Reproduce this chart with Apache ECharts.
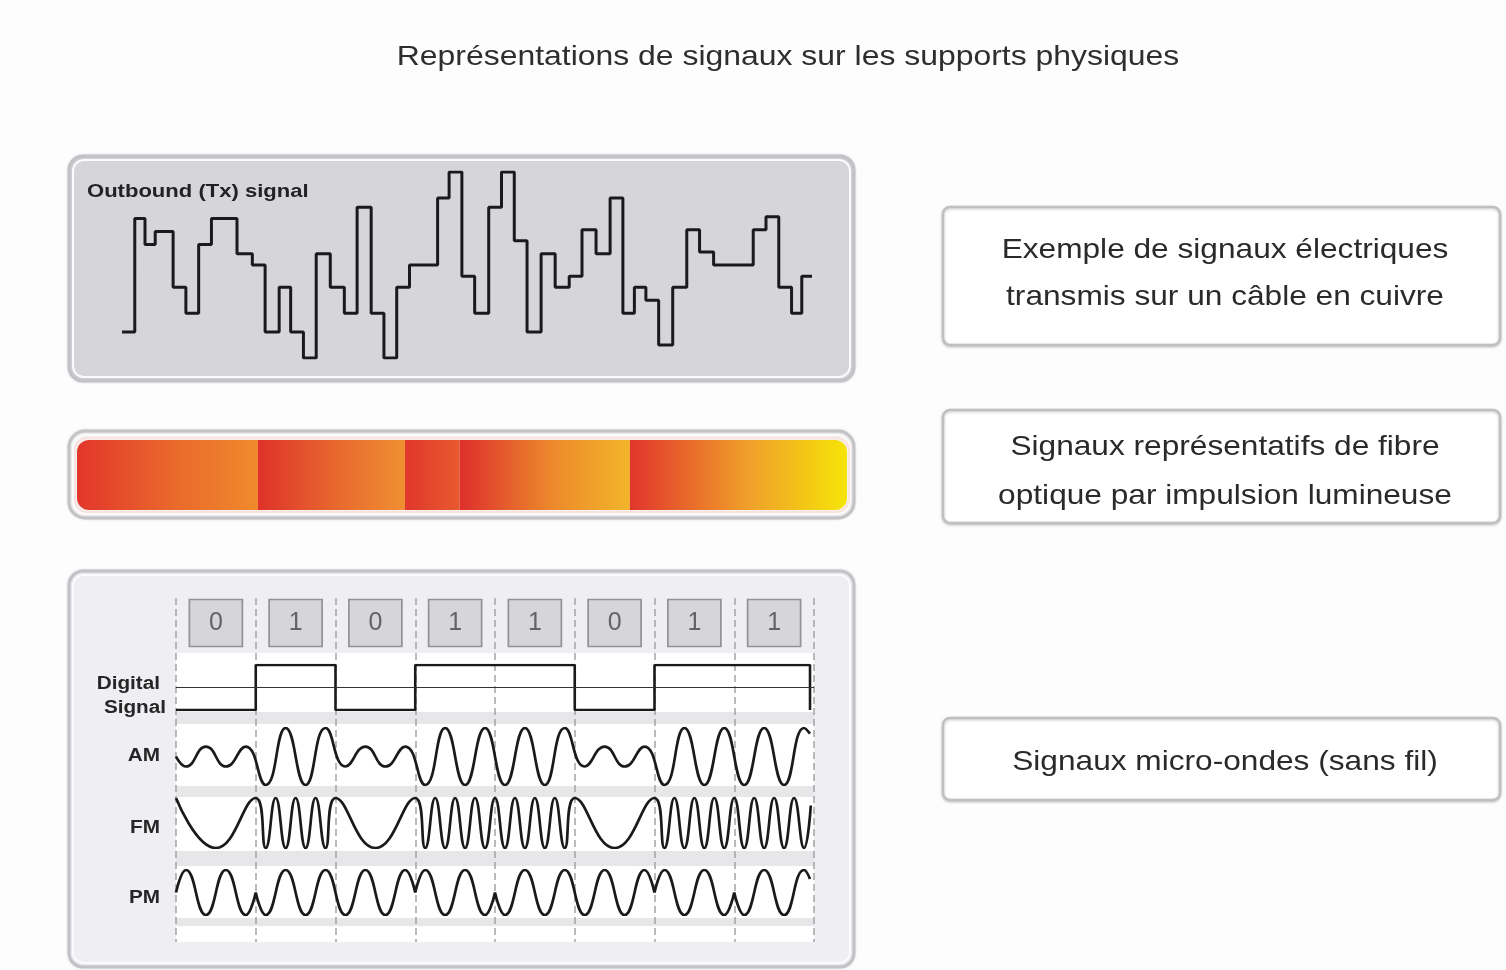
<!DOCTYPE html>
<html><head><meta charset="utf-8">
<script src="https://cdn.jsdelivr.net/npm/echarts@6/dist/echarts.min.js"></script>
<style>html,body{margin:0;padding:0;background:#fdfdfd}#c{width:1506px;height:970px}</style>
</head><body><div id="c"></div>
<script>
// ---------- data ----------
const titleText = 'Représentations de signaux sur les supports physiques';
const copperLabel = 'Outbound (Tx) signal';
// copper (electrical) signal: segment start times and levels
const copperT = [0,1,1.8,2.6,4,5,6,7,9,10.2,11.2,12.3,13.2,14.2,15.2,16.3,17.4,18.4,19.5,20.5,21.5,22.5,24.7,25.6,26.6,27.6,28.7,29.7,30.7,31.7,32.8,33.9,35,36,37.1,38.2,39.2,40.1,41,42,43.1,44.2,45.2,46.3,49.4,50.4,51.4,52.4,53.2,54];
const copperLevel = [1.4,7.5,6.1,6.8,3.8,2.4,6.1,7.5,5.6,5.0,1.4,3.8,1.4,0,5.6,3.8,2.4,8.1,2.4,0,3.8,5.0,8.6,10,4.4,2.4,8.1,10,6.3,1.4,5.6,3.8,4.4,6.9,5.6,8.6,2.4,3.8,3.1,0.7,3.8,6.9,5.7,5.0,6.9,7.6,3.8,2.4,4.4,4.4];
// fibre light pulses: durations and gradient colours
const fiberPulseWidths = [23.5, 19.1, 7.1, 22.1, 28.2];
const fiberStartColors = ['#e2362b', '#de3229', '#e0372c', '#de2f2c', '#e1352c'];
const fiberMidColors   = ['#ea6a2c', '#e86a2e', '#e44a2d', '#ec8a2c', '#f0a02a'];
const fiberEndColors   = ['#f08a2c', '#ef8f32', '#e85a2f', '#f2b52a', '#f6e408'];
// modulation
const bits = [0, 1, 0, 1, 1, 0, 1, 1];
const rowLabels = ['AM', 'FM', 'PM'];
const amPoints = [[0,0],[0.125,-0.35],[0.375,0.35],[0.625,-0.35],[0.875,0.35],
  [1.125,-1],[1.375,1],[1.625,-1],[1.875,1],
  [2.125,-0.35],[2.375,0.35],[2.625,-0.35],[2.875,0.35],
  [3.125,-1],[3.375,1],[3.625,-1],[3.875,1],
  [4.125,-1],[4.375,1],[4.625,-1],[4.875,1],
  [5.125,-0.35],[5.375,0.35],[5.625,-0.35],[5.875,0.35],
  [6.125,-1],[6.375,1],[6.625,-1],[6.875,1],
  [7.125,-1],[7.375,1],[7.625,-1],[7.875,1],[7.95,0.8]];
const fmPoints = [[0,1],[0.5,-1],
  [1,1],[1.125,-1],[1.25,1],[1.375,-1],[1.5,1],[1.625,-1],[1.75,1],[1.875,-1],
  [2,1],[2.5,-1],
  [3,1],[3.125,-1],[3.25,1],[3.375,-1],[3.5,1],[3.625,-1],[3.75,1],[3.875,-1],
  [4,1],[4.125,-1],[4.25,1],[4.375,-1],[4.5,1],[4.625,-1],[4.75,1],[4.875,-1],
  [5,1],[5.5,-1],
  [6,1],[6.125,-1],[6.25,1],[6.375,-1],[6.5,1],[6.625,-1],[6.75,1],[6.875,-1],
  [7,1],[7.125,-1],[7.25,1],[7.375,-1],[7.5,1],[7.625,-1],[7.75,1],[7.875,-1],[7.96,0.7]];
const pmPoints = [[0,0],[0.125,1],[0.375,-1],[0.625,1],[0.875,-1],[1,0],'-',
  [1,0],[1.125,-1],[1.375,1],[1.625,-1],[1.875,1],
  [2.125,-1],[2.375,1],[2.625,-1],[2.875,1],[3,0],'-',
  [3,0],[3.125,1],[3.375,-1],[3.625,1],[3.875,-1],[4,0],'-',
  [4,0],[4.125,-1],[4.375,1],[4.625,-1],[4.875,1],
  [5.125,-1],[5.375,1],[5.625,-1],[5.875,1],[6,0],'-',
  [6,0],[6.125,1],[6.375,-1],[6.625,1],[6.875,-1],[7,0],'-',
  [7,0],[7.125,-1],[7.375,1],[7.625,-1],[7.875,1],[7.95,0.6]];
const captions = [
  ['Exemple de signaux électriques', 'transmis sur un câble en cuivre'],
  ['Signaux représentatifs de fibre', 'optique par impulsion lumineuse'],
  ['Signaux micro-ondes (sans fil)']
];

// ---------- chart ----------
const FF = '"Liberation Sans", Arial, Helvetica, sans-serif';
const INK = '#1a1a1a';
const chart = echarts.init(document.getElementById('c'));

const copperData = copperT.map((t, i) => [t, copperLevel[i]]);
const digitalData = bits.map((b, i) => [i, b]).concat([[7.95, bits[bits.length - 1]], [7.95, 0]]);
const boxData = bits.map((b, i) => [i + 0.5, 0.5, b]);

const grids = [
  {left: 122, right: 694, top: 172, height: 186},   // 0 copper
  {left: 77, right: 659, top: 440, height: 70},     // 1 fibre
  {left: 176, right: 692, top: 598, height: 50},    // 2 bit boxes
  {left: 176, right: 692, top: 598, height: 344},   // 3 dashed bit boundaries
  {left: 176, right: 692, top: 665, height: 45},    // 4 digital
  {left: 176, right: 692, top: 728, height: 57},    // 5 AM
  {left: 176, right: 692, top: 798, height: 50},    // 6 FM
  {left: 176, right: 692, top: 870, height: 45}     // 7 PM
];
const hidden = {show: false};
const xAxes = [
  {gridIndex: 0, type: 'value', min: 0, max: 54, show: false},
  {gridIndex: 1, type: 'value', min: 0, max: 100, show: false},
  {gridIndex: 2, type: 'value', min: 0, max: 8, show: false},
  {gridIndex: 3, type: 'value', min: 0, max: 8, interval: 1, show: true,
    axisLine: hidden, axisTick: hidden, axisLabel: hidden,
    splitLine: {show: true, lineStyle: {type: [7, 4], color: '#a4a4a7', width: 1.5}}},
  {gridIndex: 4, type: 'value', min: 0, max: 8, show: false},
  {gridIndex: 5, type: 'value', min: 0, max: 8, show: false},
  {gridIndex: 6, type: 'value', min: 0, max: 8, show: false},
  {gridIndex: 7, type: 'value', min: 0, max: 8, show: false}
];
const yAxes = [
  {gridIndex: 0, type: 'value', min: 0, max: 10, show: false},
  {gridIndex: 1, type: 'category', data: ['fibre'], show: false},
  {gridIndex: 2, type: 'value', min: 0, max: 1, show: false},
  {gridIndex: 3, type: 'value', min: 0, max: 1, show: false},
  {gridIndex: 4, type: 'value', min: 0, max: 1, show: false},
  {gridIndex: 5, type: 'value', min: -1, max: 1, show: false},
  {gridIndex: 6, type: 'value', min: -1, max: 1, show: false},
  {gridIndex: 7, type: 'value', min: -1, max: 1, show: false}
];

const lineBase = {type: 'line', symbol: 'none', silent: true, z: 3};
const series = [];
series.push(Object.assign({}, lineBase, {
  xAxisIndex: 0, yAxisIndex: 0, step: 'end', data: copperData,
  lineStyle: {color: INK, width: 3}
}));
const nF = fiberPulseWidths.length;
fiberPulseWidths.forEach((w, i) => {
  series.push({
    type: 'bar', stack: 'fibre', xAxisIndex: 1, yAxisIndex: 1, silent: true,
    barWidth: '100%', data: [w], z: 3,
    itemStyle: {
      color: new echarts.graphic.LinearGradient(0, 0, 1, 0, [
        {offset: 0, color: fiberStartColors[i]},
        {offset: 0.55, color: fiberMidColors[i]},
        {offset: 1, color: fiberEndColors[i]}]),
      borderRadius: i === 0 ? [12, 0, 0, 12] : (i === nF - 1 ? [0, 12, 12, 0] : 0)
    }
  });
});
series.push({
  type: 'scatter', xAxisIndex: 2, yAxisIndex: 2, silent: true, z: 3,
  symbol: 'rect', symbolSize: [53, 47], data: boxData,
  itemStyle: {color: '#d0d0d3', borderColor: '#7e7e82', borderWidth: 1.6},
  label: {show: true, position: 'inside', formatter: p => String(p.value[2]),
    fontFamily: FF, fontSize: 25, color: '#464646'}
});
series.push(Object.assign({}, lineBase, {
  xAxisIndex: 4, yAxisIndex: 4, step: 'end', data: digitalData,
  lineStyle: {color: INK, width: 2.6},
  markLine: {silent: true, symbol: 'none', label: {show: false},
    lineStyle: {color: '#333', width: 1.2, type: 'solid'}, data: [{yAxis: 0.5}]}
}));
series.push(Object.assign({}, lineBase, {xAxisIndex: 5, yAxisIndex: 5, smooth: true, data: amPoints, lineStyle: {color: INK, width: 2.7}}));
series.push(Object.assign({}, lineBase, {xAxisIndex: 6, yAxisIndex: 6, smooth: true, data: fmPoints, lineStyle: {color: INK, width: 2.7}}));
series.push(Object.assign({}, lineBase, {xAxisIndex: 7, yAxisIndex: 7, smooth: true, connectNulls: false, data: pmPoints, lineStyle: {color: INK, width: 2.7}}));

// ---------- decoration ----------
const g = [];
function panel(x, y, w, h, r, fill) {
  g.push({type: 'rect', z: -3, silent: true, shape: {x, y, width: w, height: h, r},
    style: {fill, stroke: '#c3c3c7', lineWidth: 3, shadowBlur: 3, shadowColor: 'rgba(0,0,0,0.12)'}});
  g.push({type: 'rect', z: -3, z2: 1, silent: true, shape: {x: x + 4, y: y + 4, width: w - 8, height: h - 8, r: r - 3},
    style: {fill: 'none', stroke: '#fbfbfc', lineWidth: 2}});
}
panel(69, 156, 785, 225, 14, '#d6d5da');
panel(69, 431, 785, 87, 16, '#f3f0f1');
panel(69, 571, 785, 396, 14, '#eeeef3');
// fibre glow
g.push({type: 'rect', z: -2, silent: true, shape: {x: 75, y: 438, width: 774, height: 74, r: 13},
  style: {fill: 'none', stroke: '#fbe2da', lineWidth: 2}});
// white plot area and grey bands
g.push({type: 'rect', z: -2, silent: true, shape: {x: 176, y: 653, width: 638, height: 289}, style: {fill: '#ffffff'}});
[[712, 12], [786, 11], [851, 15], [918, 8]].forEach(b => {
  g.push({type: 'rect', z: -1, silent: true, shape: {x: 176, y: b[0], width: 638, height: b[1]}, style: {fill: '#e7e7ea'}});
});
// title
g.push({type: 'text', z: 5, x: 788, y: 57, scaleX: 1.14, silent: true,
  style: {text: titleText, fontFamily: FF, fontSize: 28, fill: '#2e2e2e', align: 'center', verticalAlign: 'middle'}});
// copper label
g.push({type: 'text', z: 5, x: 87, y: 192, scaleX: 1.16, silent: true,
  style: {text: copperLabel, fontFamily: FF, fontSize: 19, fontWeight: 'bold', fill: '#222', align: 'left', verticalAlign: 'middle'}});
// row labels
const lbl = (t, x, y) => g.push({type: 'text', z: 5, x, y, scaleX: 1.15, silent: true,
  style: {text: t, fontFamily: FF, fontSize: 18, fontWeight: 'bold', fill: '#262626', align: 'right', verticalAlign: 'middle'}});
lbl('Digital', 160, 684);
lbl('Signal', 166, 708);
lbl(rowLabels[0], 160, 756);
lbl(rowLabels[1], 160, 828);
lbl(rowLabels[2], 160, 898);
// caption boxes
const boxes = [[207, 138, [250, 297]], [410, 113, [447, 496]], [718, 82, [762]]];
boxes.forEach((b, i) => {
  g.push({type: 'rect', z: -3, silent: true, shape: {x: 943, y: b[0], width: 557, height: b[1], r: 7},
    style: {fill: '#ffffff', stroke: '#c0c0c2', lineWidth: 2.5, shadowBlur: 3, shadowOffsetY: 1, shadowColor: 'rgba(0,0,0,0.2)'}});
  captions[i].forEach((line, j) => {
    g.push({type: 'text', z: 5, x: 1225, y: b[2][j], scaleX: 1.13, silent: true,
      style: {text: line, fontFamily: FF, fontSize: 28, fill: '#2a2a2a', align: 'center', verticalAlign: 'middle'}});
  });
});

chart.setOption({
  animation: false,
  backgroundColor: '#fdfdfd',
  grid: grids,
  xAxis: xAxes,
  yAxis: yAxes,
  series: series,
  graphic: {elements: g}
});
</script>
</body></html>
